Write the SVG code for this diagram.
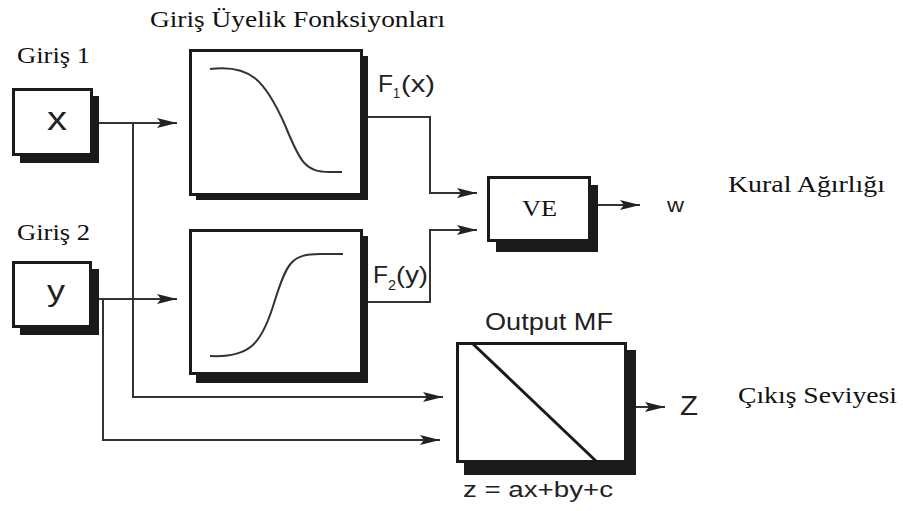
<svg xmlns="http://www.w3.org/2000/svg" width="903" height="511" viewBox="0 0 903 511">
<defs>
<marker id="ah" viewBox="0 0 20 10" refX="20" refY="5" markerWidth="20" markerHeight="10" markerUnits="userSpaceOnUse" orient="auto">
<path d="M0,0 L20,5 L0,10 L4,5 Z" fill="#222"/>
</marker>
</defs>
<style>
.sh{fill:#1a1a1a}
.bx{fill:#fff;stroke:#1a1a1a;stroke-width:3}
.ln{fill:none;stroke:#333;stroke-width:2}
.cv{fill:none;stroke:#333;stroke-width:2}
.serif{font-family:"Liberation Serif","Times New Roman",serif;fill:#111}
.sans{font-family:"Liberation Sans",Arial,sans-serif;fill:#222}
</style>
<rect width="903" height="511" fill="#fff"/>
<text class="serif" x="150" y="27" font-size="23" textLength="295" lengthAdjust="spacingAndGlyphs">Giriş Üyelik Fonksiyonları</text>
<text class="serif" x="17" y="63" font-size="23" textLength="73" lengthAdjust="spacingAndGlyphs">Giriş 1</text>
<text class="serif" x="17" y="240" font-size="23" textLength="73" lengthAdjust="spacingAndGlyphs">Giriş 2</text>
<text class="serif" x="728" y="192" font-size="23" textLength="157" lengthAdjust="spacingAndGlyphs">Kural Ağırlığı</text>
<text class="serif" x="738" y="403" font-size="23" textLength="159" lengthAdjust="spacingAndGlyphs">Çıkış Seviyesi</text>
<g id="connectors">
<path class="ln" d="M99,123 H177" marker-end="url(#ah)"/>
<path class="ln" d="M133,123 V397 H443" marker-end="url(#ah)"/>
<path class="ln" d="M99,299 H177" marker-end="url(#ah)"/>
<path class="ln" d="M103,299 V440 H440" marker-end="url(#ah)"/>
<path class="ln" d="M368,117 H430 V193 H477" marker-end="url(#ah)"/>
<path class="ln" d="M368,302 H430 V230 H477" marker-end="url(#ah)"/>
<path class="ln" d="M598,205 H640" marker-end="url(#ah)"/>
<path class="ln" d="M636,407 H665" marker-end="url(#ah)"/>
</g>
<g id="input-x">
<rect class="sh" x="20" y="96" width="79" height="67"/>
<rect class="bx" x="13.5" y="89.5" width="78" height="65"/>
<text class="sans" x="47" y="130" font-size="34" textLength="20" lengthAdjust="spacingAndGlyphs">x</text>
</g>
<g id="input-y">
<rect class="sh" x="20" y="269" width="79" height="66"/>
<rect class="bx" x="13.5" y="262.5" width="77" height="64"/>
<text class="sans" x="47" y="301" font-size="30" textLength="18" lengthAdjust="spacingAndGlyphs">y</text>
</g>
<g id="mf1">
<rect class="sh" x="196" y="56" width="172" height="144"/>
<rect class="bx" x="190.5" y="50.5" width="171" height="144" stroke-width="2"/>
<path class="cv" d="M210,69 C250,64 265,80 285,125 C300,162 305,172 330,172 H342"/>
<text class="sans" x="378" y="92" font-size="24" textLength="15" lengthAdjust="spacingAndGlyphs">F</text>
<text class="sans" x="393" y="98" font-size="15" textLength="7" lengthAdjust="spacingAndGlyphs">1</text>
<text class="sans" x="401" y="92" font-size="24" textLength="34" lengthAdjust="spacingAndGlyphs">(x)</text>
</g>
<g id="mf2">
<rect class="sh" x="196" y="236" width="172" height="147"/>
<rect class="bx" x="190.5" y="230.5" width="171" height="143" stroke-width="2"/>
<path class="cv" d="M210,356 C250,358 262,344 275,300 C287,262 292,254 320,254 H343"/>
<text class="sans" x="373" y="283" font-size="24" textLength="15" lengthAdjust="spacingAndGlyphs">F</text>
<text class="sans" x="388" y="290" font-size="15" textLength="8" lengthAdjust="spacingAndGlyphs">2</text>
<text class="sans" x="396" y="283" font-size="24" textLength="32" lengthAdjust="spacingAndGlyphs">(y)</text>
</g>
<g id="ve">
<rect class="sh" x="496" y="185" width="102" height="67"/>
<rect class="bx" x="488.5" y="177.5" width="101" height="63"/>
<text class="serif" x="522" y="216" font-size="23" textLength="35" lengthAdjust="spacingAndGlyphs">VE</text>
<text class="sans" x="667" y="212" font-size="21" textLength="17" lengthAdjust="spacingAndGlyphs">w</text>
</g>
<g id="output-mf">
<text class="sans" x="485" y="330" font-size="24" textLength="128" lengthAdjust="spacingAndGlyphs">Output MF</text>
<rect class="sh" x="464" y="350" width="172" height="125"/>
<rect class="bx" x="457.5" y="343.5" width="168" height="118"/>
<path d="M472,343 L597,462" stroke="#1a1a1a" stroke-width="3"/>
<text class="sans" x="680" y="415" font-size="28" textLength="18" lengthAdjust="spacingAndGlyphs">Z</text>
<text class="sans" x="463" y="497" font-size="22" textLength="150" lengthAdjust="spacingAndGlyphs">z = ax+by+c</text>
</g>
</svg>
